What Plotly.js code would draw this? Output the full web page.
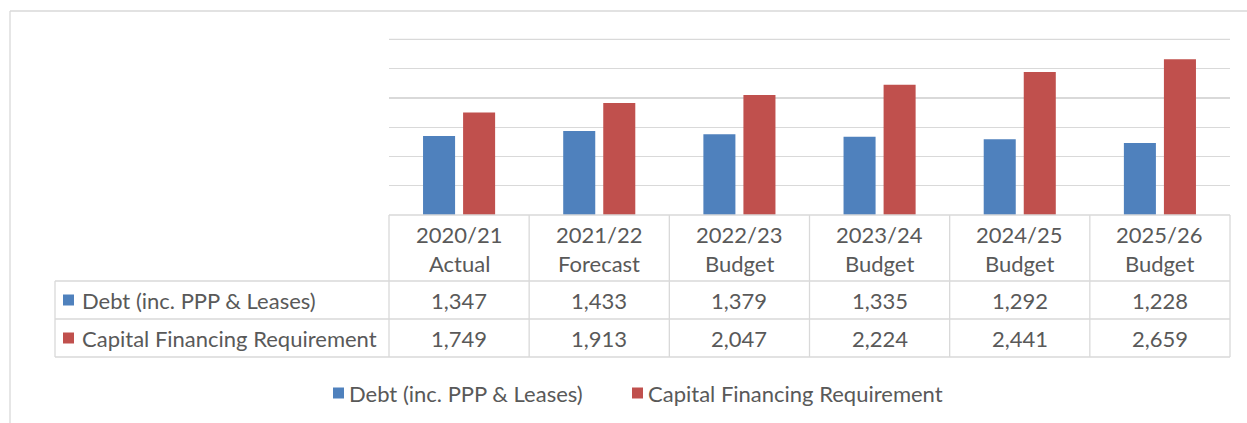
<!DOCTYPE html>
<html>
<head>
<meta charset="utf-8">
<script src="https://cdn.plot.ly/plotly-3.0.1.min.js"></script>
<style>html,body{margin:0;padding:0;background:#fff;}#chart{width:1247px;height:423px;}</style>
</head>
<body>
<div id="chart"></div>
<script>
const categories = ['2020/21', '2021/22', '2022/23', '2023/24', '2024/25', '2025/26'];
const periodTypes = ['Actual', 'Forecast', 'Budget', 'Budget', 'Budget', 'Budget'];
const seriesNames = ['Debt (inc. PPP & Leases)', 'Capital Financing Requirement'];
const debtValues = [1347, 1433, 1379, 1335, 1292, 1228];
const cfrValues = [1749, 1913, 2047, 2224, 2441, 2659];
const seriesColors = ['#4F81BD', '#C0504D'];
const yMax = 3000;

const W = 1247, H = 423;
const L = 389, R = 1230, T = 38, B = 215;
const TXT = '#595959', GRID = '#D9D9D9';
const FONT = 'Lato, "Open Sans", sans-serif';
const FS = 22;

const px = x => (x - L) / (R - L);
const py = y => (B - y) / (B - T);
const fmt = v => v.toLocaleString('en-US');

const traces = [
  {type: 'bar', name: seriesNames[0], x: categories, y: debtValues, marker: {color: seriesColors[0]}, hoverinfo: 'skip'},
  {type: 'bar', name: seriesNames[1], x: categories, y: cfrValues, marker: {color: seriesColors[1]}, hoverinfo: 'skip'}
];

const shapes = [];
const line = (x0, y0, x1, y1) => shapes.push({type: 'line', xref: 'paper', yref: 'paper', x0: px(x0), y0: py(y0), x1: px(x1), y1: py(y1), line: {color: GRID, width: 1.3}, layer: 'above'});
const keyRect = (xl, yc, k) => shapes.push({type: 'rect', xref: 'paper', yref: 'paper', x0: px(xl), x1: px(xl + 11), y0: py(yc - 5.5), y1: py(yc + 5.5), fillcolor: seriesColors[k], line: {width: 0}, layer: 'above'});

// top gridline (value axis maximum)
shapes.push({type: 'line', xref: 'paper', yref: 'y', x0: 0, x1: 1, y0: yMax, y1: yMax, line: {color: GRID, width: 1.3}, layer: 'below'});

// outer chart border (clipped on the right/bottom)
line(10, 11, 1260, 11);
line(10, 11, 10, 430);

// data table grid
const n = categories.length;
const colX = i => L + (R - L) * i / n;
const rowHead = 281, row1 = 319, row2 = 357, labelLeft = 55;
line(L, B, R, B);
line(labelLeft, rowHead, R, rowHead);
line(labelLeft, row1, R, row1);
line(labelLeft, row2, R, row2);
line(labelLeft, rowHead, labelLeft, row2);
for (let i = 0; i <= n; i++) line(colX(i), B, colX(i), row2);

const annotations = [];
const ann = (x, xref, y, text, xanchor) => annotations.push({x: x, xref: xref, y: py(y), yref: 'paper', text: text, showarrow: false, xanchor: xanchor || 'center', yanchor: 'middle', font: {family: FONT, size: FS, color: TXT}});

categories.forEach((c, i) => {
  ann(c, 'x', 234, c);
  ann(c, 'x', 263, periodTypes[i]);
  ann(c, 'x', 300, fmt(debtValues[i]));
  ann(c, 'x', 338, fmt(cfrValues[i]));
});

// series labels with keys in the table
const keyRows = [300, 338];
seriesNames.forEach((s, k) => {
  keyRect(63, keyRows[k], k);
  ann(px(80), 'paper', keyRows[k], s, 'left');
});

// bottom legend
const legendKeyX = [333, 632];
seriesNames.forEach((s, k) => {
  keyRect(legendKeyX[k], 393, k);
  ann(px(legendKeyX[k] + 14), 'paper', 393, s, 'left');
});

// plot area: 3000 sits ~1px below the top edge
const yTop = yMax * (B - T) / (B - 39.3);

const layout = {
  width: W, height: H,
  margin: {l: L, r: W - R, t: T, b: H - B, pad: 0},
  paper_bgcolor: '#fff', plot_bgcolor: '#fff',
  font: {family: FONT, size: FS, color: TXT},
  barmode: 'group', bargap: 0.4286, bargroupgap: 0.2,
  xaxis: {type: 'category', showticklabels: false, showgrid: false, zeroline: false, showline: false, ticks: '', fixedrange: true},
  yaxis: {range: [0, yTop], dtick: 500, tick0: 0, showticklabels: false, showgrid: true, gridcolor: GRID, gridwidth: 1.3, zeroline: false, showline: false, ticks: '', fixedrange: true},
  showlegend: false,
  shapes: shapes,
  annotations: annotations
};

Plotly.newPlot('chart', traces, layout, {displayModeBar: false, staticPlot: true});
</script>
</body>
</html>
